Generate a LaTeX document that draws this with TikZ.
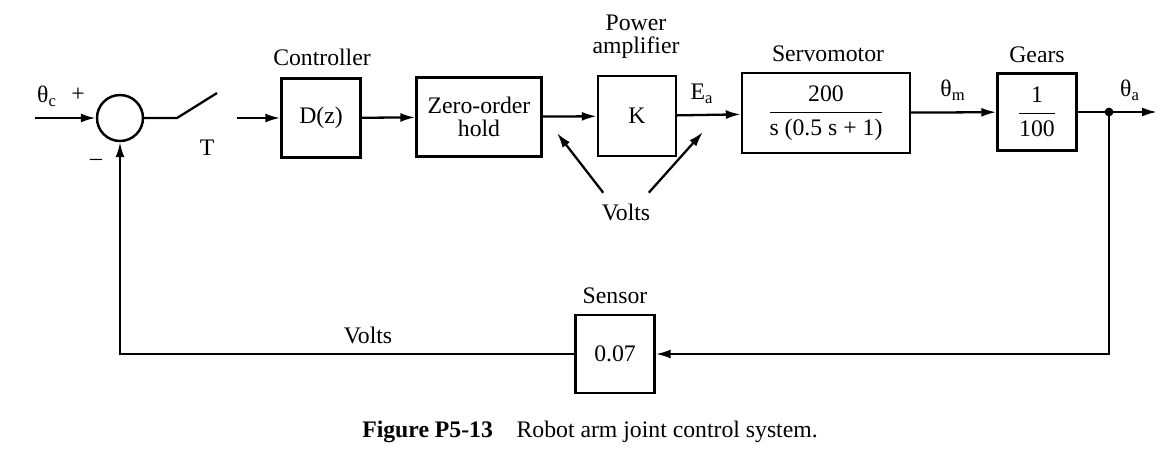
\documentclass[tikz,border=0pt]{standalone}
\usepackage{fontspec}
\setmainfont{Liberation Serif}
\usepackage{tikz}
\usetikzlibrary{positioning,arrows.meta,calc}
\tikzset{
    loopblock/.style={draw, line width=1.4pt, rectangle, align=center, inner sep=2pt},
    loopsum/.style={draw, line width=1.4pt, circle, minimum size=0.92cm, inner sep=0pt},
    looparrow/.style={draw, line width=1.3pt, -{Latex[length=3mm,width=1.8mm]}},
    loopline/.style={draw, line width=1.3pt},
    looplabel/.style={align=center, inner sep=1pt},
    loopdot/.style={circle, fill=black, minimum size=5pt, inner sep=0pt}
}

\begin{document}
\begin{tikzpicture}[x=0.02cm, y=-0.02cm, every node/.style={font=\fontsize{13.5pt}{15pt}\selectfont}]
    \useasboundingbox (0,0) rectangle (1171,451);
    \node[loopsum] (sum) at (120,118) {};
    \coordinate (ref) at (35,118);
    \coordinate (swa) at (177,118);
    \coordinate (swb) at (217,93);
    \coordinate (swc) at (237,118);
    \node[loopblock, minimum width=1.58cm, minimum height=1.58cm] (ctrl) at (321,118) {D(z)};
    \node[loopblock, minimum width=2.5cm, minimum height=1.58cm] (zoh) at (479,117) {Zero-order\\[-2pt]hold};
    \node[loopblock, minimum width=1.56cm, minimum height=1.6cm] (amp) at (637,116) {K};
    \node[loopblock, minimum width=3.36cm, minimum height=1.6cm] (motor) at (826,113) {$\displaystyle\frac{\textrm{200}}{\textrm{s (0.5 s + 1)}}$};
    \node[loopblock, minimum width=1.58cm, minimum height=1.54cm] (gears) at (1037,112) {$\displaystyle\frac{\textrm{1}}{\textrm{100}}$};
    \node[loopdot] (tap) at (1109,112) {};
    \coordinate (out) at (1157,112);
    \node[loopblock, minimum width=1.58cm, minimum height=1.56cm] (sensor) at (615,354) {0.07};

    \node[looplabel] (ctrllab) at (322,57) {Controller};
    \node[looplabel] (amplab) at (636,37) {Power\\[-2pt]amplifier};
    \node[looplabel] (motorlab) at (828,54) {Servomotor};
    \node[looplabel] (gearslab) at (1037,55) {Gears};
    \node[looplabel] (sensorlab) at (615,296) {Sensor};
    \node[looplabel] (thc) at (47,96) {θ\textsubscript{c}};
    \node[looplabel] (plus) at (78,95) {+};
    \node[looplabel] (minus) at (96,162) {–};
    \node[looplabel] (tlab) at (207,148) {T};
    \node[looplabel] (ea) at (702,94) {E\textsubscript{a}};
    \node[looplabel] (thm) at (953,90) {θ\textsubscript{m}};
    \node[looplabel] (tha) at (1130,90) {θ\textsubscript{a}};
    \node[looplabel] (volts) at (626,212) {Volts};
    \node[looplabel] (fbvolts) at (368,335) {Volts};
    \coordinate (vhead1) at (557,133);
    \coordinate (vhead2) at (703,132);
    \node[looplabel] (caption) at (590,432) {\textbf{Figure P5-13}\quad Robot arm joint control system.};

    \draw[looparrow] (ref) -- (sum);
    \draw[loopline] (sum) -- (swa) -- (swb);
    \draw[looparrow] (swc) -- (ctrl);
    \draw[looparrow] (ctrl) -- (zoh);
    \draw[looparrow] (zoh) -- (amp);
    \draw[looparrow] (amp) -- (motor);
    \draw[looparrow] (motor) -- (gears);
    \draw[looparrow] (gears) -- (out);
    \draw[looparrow] (tap.center) |- (sensor);
    \draw[looparrow] (sensor) -| (sum);
    \draw[looparrow] ([xshift=2pt,yshift=5pt]volts.north west) -- (vhead1);
    \draw[looparrow] ([xshift=-2pt,yshift=5pt]volts.north east) -- (vhead2);
\end{tikzpicture}
\end{document}
